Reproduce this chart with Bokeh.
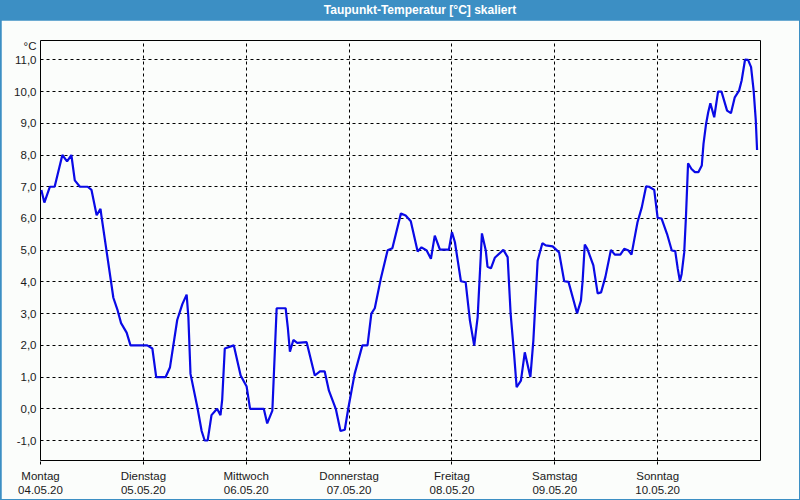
from bokeh.plotting import figure
from bokeh.models import Div, Range1d, FixedTicker
from bokeh.layouts import column
from bokeh.embed import file_html
from bokeh.resources import INLINE

# hours since Monday 04.05.20 00:00
hours = [0.2, 0.9, 2.2, 3.3, 5.1, 6.2, 7.2, 8.0, 9.2, 11.0, 11.9, 13.1, 14.0, 14.2,
         17.0, 18.0, 18.8, 20.1, 21.0, 24.9, 26.1, 27.0, 29.2, 30.2, 31.9, 33.1,
         34.1, 34.5, 35.0, 36.6, 37.6, 38.3, 39.0, 39.9, 41.2, 42.0, 42.4, 43.0,
         45.1, 46.7, 48.1, 48.9, 52.1, 52.9, 54.1, 55.1, 57.2, 57.7, 58.2, 59.0,
         59.9, 62.1, 64.0, 65.2, 66.3, 67.3, 68.9, 70.0, 71.0, 71.8, 73.3, 75.1,
         76.3, 77.2, 78.0, 79.4, 81.0, 82.1, 84.1, 85.2, 86.4, 88.0, 88.9, 90.1,
         91.1, 92.0, 93.2, 95.3, 96.0, 96.7, 98.1, 99.2, 100.2, 101.2, 102.0,
         103.0, 103.9, 104.3, 105.1, 106.0, 108.0, 109.0, 109.7, 110.5, 111.1,
         112.1, 113.0, 114.3, 115.0, 116.0, 117.1, 117.9, 119.5, 121.0, 122.2,
         123.2, 125.2, 126.1, 126.5, 127.0, 127.6, 129.0, 130.0, 130.8, 131.8,
         133.1, 134.0, 135.3, 136.2, 137.1, 137.9, 138.5, 139.3, 140.3, 141.3,
         142.0, 143.2, 144.0, 144.9, 146.2, 147.3, 148.1, 148.7, 149.2, 149.6,
         150.2, 150.6, 151.1, 151.9, 152.7, 153.5, 154.3, 154.7, 155.3, 155.8,
         156.3, 157.2, 158.1, 158.9, 160.2, 161.1, 162.0, 163.0, 163.6, 164.4,
         165.1, 165.8, 166.4, 166.9, 167.2]
dew_point = [6.9, 6.5, 7.0, 7.0, 8.0, 7.8, 8.0, 7.2, 7.0, 7.0, 6.9, 6.1, 6.3, 6.1,
             3.5, 3.1, 2.7, 2.4, 2.0, 2.0, 1.9, 1.0, 1.0, 1.3, 2.8, 3.3,
             3.6, 2.9, 1.1, 0.05, -0.7, -1.0, -1.0, -0.2, 0.0, -0.2, 0.3, 1.9,
             2.0, 1.05, 0.7, 0.0, 0.0, -0.46, -0.06, 3.17, 3.17, 2.57, 1.8, 2.17,
             2.08, 2.1, 1.05, 1.18, 1.18, 0.57, 0.0, -0.7, -0.66, 0.0, 1.1, 2.0,
             2.0, 3.0, 3.17, 4.1, 5.0, 5.06, 6.16, 6.09, 5.91, 4.96, 5.09, 4.99,
             4.73, 5.46, 5.02, 5.02, 5.57, 5.25, 4.02, 3.99, 2.78, 1.99, 2.89,
             5.53, 4.99, 4.48, 4.43, 4.76, 5.01, 4.78, 2.99, 1.73, 0.68,
             0.89, 1.78, 1.0, 2.15, 4.67, 5.22, 5.15, 5.12, 4.93, 4.02,
             4.0, 3.01, 3.41, 4.04, 5.18, 5.04, 4.52, 3.64, 3.67, 4.15,
             5.01, 4.86, 4.86, 5.04, 5.0, 4.86, 5.3, 5.88, 6.35, 7.01,
             7.0, 6.9, 6.02, 6.0, 5.51, 4.99, 4.97, 4.41, 4.02, 4.25,
             4.93, 6.04, 7.74, 7.56, 7.46, 7.46, 7.67, 8.35, 8.98, 9.35,
             9.63, 9.19, 10.0, 10.0, 9.4, 9.32, 9.82, 10.03, 10.35, 11.01,
             11.0, 10.77, 10.03, 9.09, 8.16]

day_ticks = [0, 24, 48, 72, 96, 120, 144]
day_names = ["Montag", "Dienstag", "Mittwoch", "Donnerstag", "Freitag", "Samstag", "Sonntag"]
day_dates = ["04.05.20", "05.05.20", "06.05.20", "07.05.20", "08.05.20", "09.05.20", "10.05.20"]
y_ticks = list(range(-1, 12))
unit_tick = 11.43
title_text = "Taupunkt-Temperatur [°C] skaliert"
unit_text = "°C"

FONT = "Liberation Sans"
BLUE_BAR = "#3c8fc4"
BG = "#fbfdfb"

p = figure(width=798, height=479, output_backend="svg", toolbar_location=None,
           x_range=Range1d(0, 168), y_range=Range1d(-1.63, 11.61),
           min_border_left=39, min_border_right=39, min_border_top=20,
           min_border_bottom=39, background_fill_color=BG, border_fill_color=BG,
           margin=(0, 1, 1, 1))

p.line(hours, dew_point, line_color="#0a0ae6", line_width=2.2)

p.outline_line_color = "black"
p.outline_line_width = 1

p.xaxis.ticker = FixedTicker(ticks=day_ticks)
p.xaxis.major_label_overrides = {t: f"{n}\n{d}" for t, n, d in zip(day_ticks, day_names, day_dates)}
p.xaxis.axis_line_color = None
p.xaxis.minor_tick_line_color = None
p.xaxis.major_tick_in = 0
p.xaxis.major_tick_out = 4
p.xaxis.major_tick_line_dash = "3 2"
p.xaxis.major_label_standoff = 5

y_overrides = {t: f"{t:.1f}".replace(".", ",") for t in y_ticks}
y_overrides[unit_tick] = unit_text
p.yaxis.ticker = FixedTicker(ticks=y_ticks + [unit_tick])
p.yaxis.major_label_overrides = y_overrides
p.yaxis.axis_line_color = None
p.yaxis.minor_tick_line_color = None
p.yaxis.major_tick_in = 0
p.yaxis.major_tick_out = 0
p.yaxis.major_label_standoff = 4

for ax in (p.xaxis, p.yaxis):
    ax.major_label_text_font = FONT
    ax.major_label_text_font_size = "11.5px"
    ax.major_label_text_color = "#1a1a1a"

p.xgrid.ticker = FixedTicker(ticks=day_ticks)
p.ygrid.ticker = FixedTicker(ticks=y_ticks)
for g in (p.xgrid, p.ygrid):
    g.grid_line_color = "black"
    g.grid_line_dash = "3 3"
    g.grid_line_width = 1

bar = Div(text=title_text, width=800, height=20, margin=0,
          styles={"background-color": BLUE_BAR, "color": "white", "font-weight": "bold",
                  "font-family": FONT, "font-size": "12px", "text-align": "center",
                  "line-height": "20px", "text-indent": "40px"})

layout = column(bar, p, spacing=0, margin=0, width=800, height=500,
                styles={"background-color": BLUE_BAR})
open("out.html", "w").write(file_html(layout, INLINE))
